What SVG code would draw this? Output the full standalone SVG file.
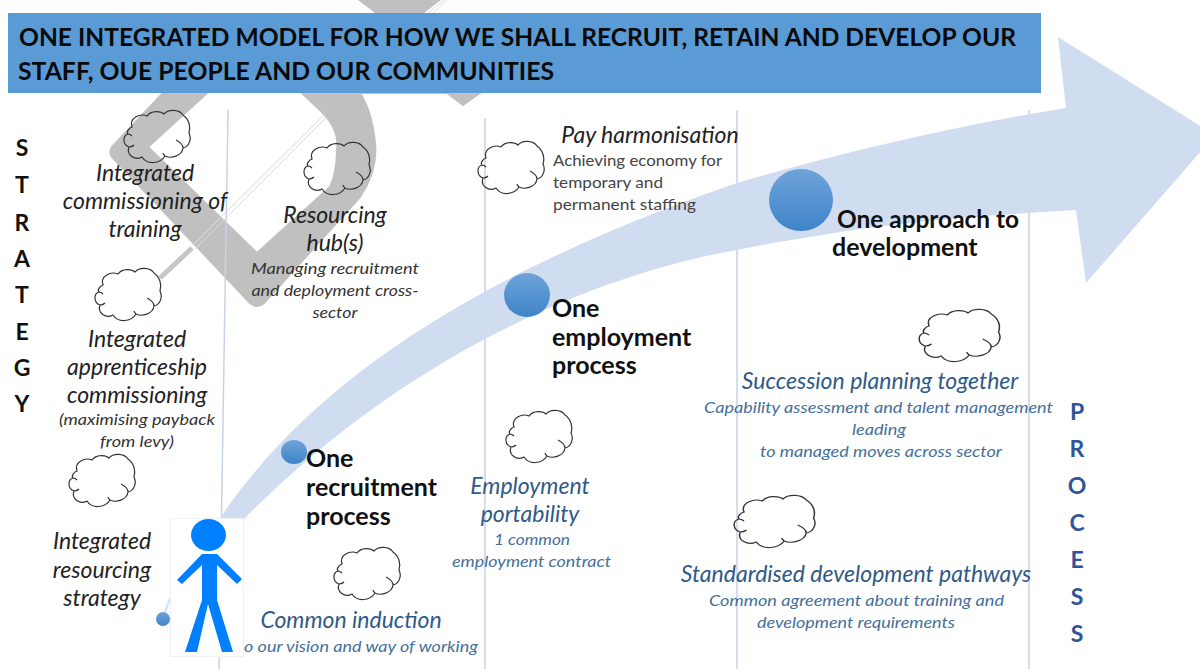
<svg xmlns="http://www.w3.org/2000/svg" width="1200" height="669" viewBox="0 0 1200 669">
<style>
text{font-family:"Lato","Open Sans","Liberation Sans",sans-serif}
.h{font-size:25px;font-weight:700;fill:#0a0a0a}
.v{font-size:23px;font-weight:700;fill:#111;text-anchor:middle}
.vb{fill:#2f5597}
.t{font-size:23px;font-style:italic;fill:#222;text-anchor:middle}
.s{font-size:16px;font-style:italic;fill:#333;text-anchor:middle}
.bt{fill:#2f5a88}.bs{fill:#456f9b}
.b{font-size:25px;font-weight:700;fill:#111}
.r{font-size:16px;fill:#444}
.vl{stroke:#c6d4e7;stroke-width:1.5;fill:none}
.cl{fill:none;stroke:#333;stroke-width:1.2}
.fig{fill:#0080ff}
</style>
<defs>
<path id="cloud" d="M9 18C6 9 17 4 24 7C28 1 38 2 41 5C45 0 56 0 60 6C66 10 68 18 66 24C69 30 66 38 60 39C59 47 48 50 42 47C37 55 24 56 19 48C12 52 3 46 6 38C0 36-1 27 5 25C3 23 6 19 9 18ZM53 31C57 33 60 36 60 39M6 38C8 38 10 37 11 36M5 25C7 25 8 26 9 27M42 47C41 46 40 45 40 44"/>
<linearGradient id="dot" x1="0" y1="0" x2="0" y2="1"><stop offset="0" stop-color="#6ea3da"/><stop offset="1" stop-color="#3f84c8"/></linearGradient>
</defs>
<g id="backdrop">
<path fill="#c0c0c0" stroke="#c0c0c0" stroke-width="2" stroke-linejoin="round" d="M163 93L112 147Q108 153 113 158L250 303Q257 309 264 303L360 197Q378 170 375 143Q372 112 360 93L480 93L463 105L447 93L302 93L323 113Q340 130 337 150Q337 172 330 187L257 253L148 147L207 93Z"/>
<path fill="#c0c0c0" d="M358 0L375 13L424 13L441 0Z"/>
<path stroke="#c6c6c6" stroke-width="5" d="M160 278L192 248" fill="none"/>
<path stroke="#dcdcdc" stroke-width="1" d="M192 246L325 114M195 249L327 117M426 15L444 0M429 17L447 0" fill="none"/>
</g>
<g id="lines">
<path class="vl" d="M228 110L219 669M485 118V669M737 110V669M1029 110V669"/>
</g>
<g id="connectors">
<path id="big-arrow" fill="#d0dcef" d="M220 518C310 385 470 275 737 183C850 150 960 125 1066 108L1058 37L1215 135L1086 283L1076 210C990 215 900 222 834 233C790 240 760 245 737 250C620 270 420 340 243 520Z"/>
</g>
<g id="banner">
<rect x="8" y="13" width="1033" height="80" fill="#5b9bd5"/>
<text class="h" x="19" y="46" textLength="997" lengthAdjust="spacingAndGlyphs">ONE INTEGRATED MODEL FOR HOW WE SHALL RECRUIT, RETAIN AND DEVELOP OUR</text>
<text class="h" x="18" y="80" textLength="536" lengthAdjust="spacingAndGlyphs">STAFF, OUE PEOPLE AND OUR COMMUNITIES</text>
</g>
<g id="strategy-label">
<text class="v" x="22" y="156">S</text><text class="v" x="22" y="193">T</text><text class="v" x="22" y="231">R</text><text class="v" x="22" y="267">A</text><text class="v" x="22" y="303">T</text><text class="v" x="22" y="340">E</text><text class="v" x="22" y="376">G</text><text class="v" x="22" y="412">Y</text>
</g>
<g id="process-label">
<text class="v vb" x="1077" y="420">P</text><text class="v vb" x="1077" y="457">R</text><text class="v vb" x="1077" y="494">O</text><text class="v vb" x="1077" y="531">C</text><text class="v vb" x="1077" y="568">E</text><text class="v vb" x="1077" y="605">S</text><text class="v vb" x="1077" y="642">S</text>
</g>
<g id="commissioning-training">
<use href="#cloud" class="cl" x="123" y="109"/>
<text class="t" x="145" y="181">Integrated</text><text class="t" x="145" y="209">commissioning of</text><text class="t" x="145" y="237">training</text>
</g>
<g id="resourcing-hub">
<use href="#cloud" class="cl" x="303" y="141"/>
<text class="t" x="335" y="223">Resourcing</text><text class="t" x="335" y="251">hub(s)</text>
<text class="s" x="335" y="274" textLength="168" lengthAdjust="spacingAndGlyphs">Managing recruitment</text><text class="s" x="335" y="296" textLength="167" lengthAdjust="spacingAndGlyphs">and deployment cross-</text><text class="s" x="335" y="318" textLength="45" lengthAdjust="spacingAndGlyphs">sector</text>
</g>
<g id="apprenticeship">
<use href="#cloud" class="cl" x="94" y="267"/>
<text class="t" x="137" y="347">Integrated</text><text class="t" x="137" y="375">apprenticeship</text><text class="t" x="137" y="403">commissioning</text>
<text class="s" x="137" y="425" textLength="156" lengthAdjust="spacingAndGlyphs">(maximising payback</text><text class="s" x="137" y="447" textLength="74" lengthAdjust="spacingAndGlyphs">from levy)</text>
</g>
<g id="resourcing-strategy">
<use href="#cloud" class="cl" x="68" y="453"/>
<text class="t" x="102" y="549">Integrated</text><text class="t" x="102" y="578">resourcing</text><text class="t" x="102" y="606">strategy</text>
</g>
<g id="start-dot">
<path d="M171 596L165 612" stroke="#d0dcef" stroke-width="2" fill="none"/>
<circle cx="163" cy="619" r="7" fill="url(#dot)"/>
</g>
<g id="person">
<rect x="170.500" y="518.500" width="73" height="138" fill="#fff" stroke="#eef1f5"/>
<ellipse class="fig" cx="208.500" cy="535" rx="17.500" ry="16"/>
<path class="fig" d="M202 554H217L242 579L237 584L217 565V600L233 652H222L208 604L197 652H185L202 600V565L182 584L177 580Z"/>
</g>
<g id="recruitment">
<ellipse cx="294" cy="452" rx="13" ry="12" fill="url(#dot)"/>
<text class="b" x="306" y="467">One</text><text class="b" x="306" y="496">recruitment</text><text class="b" x="306" y="525">process</text>
</g>
<g id="employment">
<ellipse cx="527" cy="295" rx="23" ry="22" fill="url(#dot)"/>
<text class="b" x="552" y="317">One</text><text class="b" x="552" y="346">employment</text><text class="b" x="552" y="374">process</text>
</g>
<g id="development">
<ellipse cx="801" cy="200" rx="32" ry="31" fill="url(#dot)"/>
<text class="b" x="837" y="228" textLength="182" lengthAdjust="spacingAndGlyphs">One approach to</text><text class="b" x="832" y="256">development</text>
</g>
<g id="pay">
<use href="#cloud" class="cl" x="477" y="140"/>
<text class="t" x="650" y="143">Pay harmonisation</text>
<text class="r" x="553" y="166" textLength="169" lengthAdjust="spacingAndGlyphs">Achieving economy for</text><text class="r" x="553" y="188" textLength="110" lengthAdjust="spacingAndGlyphs">temporary and</text><text class="r" x="553" y="210" textLength="143" lengthAdjust="spacingAndGlyphs">permanent staffing</text>
</g>
<g id="portability">
<use href="#cloud" class="cl" x="505" y="409"/>
<text class="t bt" x="530" y="494">Employment</text><text class="t bt" x="530" y="522">portability</text>
<text class="s bs" x="532" y="545" textLength="76" lengthAdjust="spacingAndGlyphs">1 common</text><text class="s bs" x="531.500" y="567" textLength="159" lengthAdjust="spacingAndGlyphs">employment contract</text>
</g>
<g id="induction">
<use href="#cloud" class="cl" x="333" y="546"/>
<text class="t bt" x="351" y="628">Common induction</text>
<text class="s bs" x="361" y="652" textLength="234" lengthAdjust="spacingAndGlyphs">o our vision and way of working</text>
</g>
<g id="succession">
<use href="#cloud" class="cl" transform="translate(918 308) scale(1.22 1)"/>
<text class="t bt" x="880" y="389">Succession planning together</text>
<text class="s bs" x="878.500" y="413" textLength="349" lengthAdjust="spacingAndGlyphs">Capability assessment and talent management</text><text class="s bs" x="879" y="435" textLength="54" lengthAdjust="spacingAndGlyphs">leading</text><text class="s bs" x="881" y="457" textLength="242" lengthAdjust="spacingAndGlyphs">to managed moves across sector</text>
</g>
<g id="pathways">
<use href="#cloud" class="cl" transform="translate(733 494) scale(1.22 1)"/>
<text class="t bt" x="856" y="582">Standardised development pathways</text>
<text class="s bs" x="856.500" y="606" textLength="295" lengthAdjust="spacingAndGlyphs">Common agreement about training and</text><text class="s bs" x="856" y="628" textLength="198" lengthAdjust="spacingAndGlyphs">development requirements</text>
</g>
</svg>
